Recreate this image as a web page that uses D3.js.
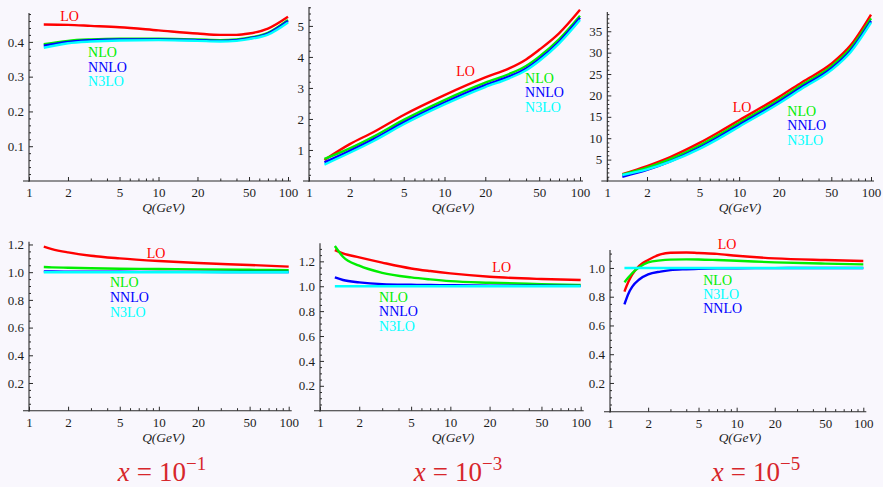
<!DOCTYPE html>
<html>
<head>
<meta charset="utf-8">
<script src="https://cdn.jsdelivr.net/npm/d3@7"></script>
<style>
  html, body { margin: 0; padding: 0; background: #f9f7fd; }
  svg { display: block; }
  text { font-family: "Liberation Serif", "Times New Roman", Times, serif; }
</style>
</head>
<body>
<svg id="chart" width="883" height="487"></svg>
<script>
// ---- data -------------------------------------------------------------
const orders = ["LO", "NLO", "NNLO", "N3LO"];
const xTickValues = [1, 2, 5, 10, 20, 50, 100];
const xMinorTickValues = [3, 4, 6, 7, 8, 9, 30, 40, 60, 70, 80, 90];
const xTitle = "Q(GeV)";
const xExponents = ["1", "3", "5"];

// top row, x = 1e-1
const qA    = [1.3, 2, 3, 5, 10, 20, 30, 40, 50, 70, 100];
const loA   = [0.450, 0.449, 0.446, 0.442, 0.433, 0.424, 0.420, 0.420, 0.424, 0.438, 0.472];
const nloA  = [0.393, 0.403, 0.407, 0.409, 0.409, 0.407, 0.405, 0.407, 0.412, 0.426, 0.463];
const nnloA = [0.389, 0.400, 0.405, 0.407, 0.407, 0.405, 0.403, 0.405, 0.410, 0.424, 0.460];
const n3loA = [0.383, 0.396, 0.401, 0.404, 0.405, 0.403, 0.401, 0.403, 0.408, 0.421, 0.456];

// top row, x = 1e-3
const qB    = [1.3, 2, 3, 5, 10, 20, 30, 40, 50, 70, 100];
const loB   = [0.68, 1.19, 1.58, 2.13, 2.77, 3.34, 3.63, 3.92, 4.23, 4.76, 5.52];
const nloB  = [0.71, 1.05, 1.43, 1.97, 2.61, 3.17, 3.45, 3.71, 4.01, 4.57, 5.33];
const nnloB = [0.60, 0.97, 1.35, 1.89, 2.53, 3.09, 3.37, 3.63, 3.93, 4.49, 5.26];
const n3loB = [0.53, 0.91, 1.29, 1.83, 2.47, 3.03, 3.31, 3.57, 3.87, 4.43, 5.19];

// top row, x = 1e-5
const qC    = [1.3, 2, 3, 5, 7, 10, 20, 30, 50, 70, 100];
const loC   = [1.6, 3.5, 5.6, 8.9, 11.4, 14.2, 19.6, 23.1, 27.4, 31.7, 38.9];
const nloC  = [1.5, 3.1, 5.1, 8.3, 10.8, 13.6, 19.0, 22.5, 26.8, 31.0, 38.0];
const nnloC = [1.0, 2.6, 4.6, 7.8, 10.3, 13.1, 18.5, 22.0, 26.3, 30.5, 37.4];
const n3loC = [1.4, 2.7, 4.5, 7.5, 9.9, 12.7, 18.1, 21.6, 25.9, 30.1, 37.0];

// bottom row, x = 1e-1
const qD    = [1.3, 1.5, 2, 3, 5, 10, 20, 50, 100];
const loD   = [1.184, 1.167, 1.143, 1.119, 1.100, 1.081, 1.066, 1.052, 1.040];
const nloD  = [1.037, 1.035, 1.032, 1.028, 1.025, 1.023, 1.020, 1.017, 1.015];
const nnloD = [1.006, 1.005, 1.004, 1.003, 1.003, 1.002, 1.002, 1.001, 1.001];
const n3loD = [1, 1, 1, 1, 1, 1, 1, 1, 1];

// bottom row, x = 1e-3
const qE    = [1.3, 1.5, 2, 3, 5, 7, 10, 20, 50, 100];
const loE   = [1.290, 1.264, 1.232, 1.190, 1.143, 1.122, 1.103, 1.076, 1.058, 1.050];
const nloE  = [1.323, 1.237, 1.165, 1.108, 1.071, 1.055, 1.041, 1.028, 1.017, 1.010];
const nnloE = [1.071, 1.050, 1.031, 1.017, 1.012, 1.010, 1.008, 1.005, 1.004, 1.003];
const n3loE = [1, 1, 1, 1, 1, 1, 1, 1, 1, 1];

// bottom row, x = 1e-5
const qF    = [1.3, 1.4, 1.5, 1.7, 2, 2.5, 3, 4, 5, 7, 10, 20, 50, 100];
const loF   = [0.835, 0.905, 0.955, 1.015, 1.055, 1.094, 1.106, 1.108, 1.104, 1.098, 1.085, 1.067, 1.055, 1.048];
const nloF  = [0.900, 0.935, 0.965, 1.005, 1.039, 1.053, 1.058, 1.060, 1.059, 1.055, 1.050, 1.039, 1.030, 1.025];
const nnloF = [0.747, 0.823, 0.870, 0.920, 0.955, 0.975, 0.985, 0.991, 0.994, 0.997, 0.998, 0.999, 1.000, 1.000];
const n3loF = [1, 1, 1, 1, 1, 1, 1, 1, 1, 1, 1, 1, 1, 1];

const yTicksA = [0.1, 0.2, 0.3, 0.4];
const yTicksB = [1, 2, 3, 4, 5];
const yTicksC = [5, 10, 15, 20, 25, 30, 35];
const yTicksRatio = [0.2, 0.4, 0.6, 0.8, 1.0, 1.2];
const yTicksRatioF = [0.2, 0.4, 0.6, 0.8, 1.0];

// ---- styling & layout ---------------------------------------------------
const colors = { LO: "#ff0000", NLO: "#00ee00", NNLO: "#0000ff", N3LO: "#00ffff" };
const axisColor = "#2a2a2a";
const textColor = "#1c1c1c";
const captionColor = "#d7262b";

const panels = [
  { q: qA, s: { LO: loA, NLO: nloA, NNLO: nnloA, N3LO: n3loA },
    left: 29, right: 288, base: 181, top: 13, yMax: 0.483,
    yTicks: yTicksA, yMinor: 0.02, fmt: ".1f", titleX: 163.5, titleY: 211.5,
    labels: { LO: [1.74, 0.474], NLO: [2.86, 0.371], NNLO: [2.86, 0.328], N3LO: [2.86, 0.287] } },
  { q: qB, s: { LO: loB, NLO: nloB, NNLO: nnloB, N3LO: n3loB },
    left: 309, right: 580, base: 181, top: 7, yMax: 5.61,
    yTicks: yTicksB, yMinor: 0.2, fmt: "d", titleX: 453, titleY: 211.5,
    labels: { LO: [12.2, 3.55], NLO: [39.3, 3.32], NNLO: [39.3, 2.87], N3LO: [39.3, 2.39] } },
  { q: qC, s: { LO: loC, NLO: nloC, NNLO: nnloC, N3LO: n3loC },
    left: 607.3, right: 871, base: 181, top: 12, yMax: 39.5,
    yTicks: yTicksC, yMinor: 1, fmt: "d", titleX: 740, titleY: 211.5,
    labels: { LO: [8.93, 17.3], NLO: [23.2, 16.4], NNLO: [23.2, 13.1], N3LO: [23.2, 9.6] } },
  { q: qD, s: { LO: loD, NLO: nloD, NNLO: nnloD, N3LO: n3loD },
    left: 29, right: 288.7, base: 410.7, top: 241.7, yMax: 1.22,
    yTicks: yTicksRatio, yMinor: 0.05, fmt: ".1f", titleX: 163.5, titleY: 441.5,
    labels: { LO: [8.06, 1.136], NLO: [4.2, 0.927], NNLO: [4.2, 0.823], N3LO: [4.2, 0.715] } },
  { q: qE, s: { LO: loE, NLO: nloE, NNLO: nnloE, N3LO: n3loE },
    left: 320, right: 580.7, base: 410.7, top: 243.3, yMax: 1.345,
    yTicks: yTicksRatio, yMinor: 0.05, fmt: ".1f", titleX: 453, titleY: 441.5,
    labels: { LO: [21, 1.152], NLO: [2.84, 0.916], NNLO: [2.84, 0.801], N3LO: [2.84, 0.683] } },
  { q: qF, s: { LO: loF, NLO: nloF, NNLO: nnloF, N3LO: n3loF },
    left: 610, right: 863.3, base: 411.7, top: 250, yMax: 1.125,
    yTicks: yTicksRatioF, yMinor: 0.05, fmt: ".1f", titleX: 740, titleY: 441.5,
    labels: { LO: [7.08, 1.165], NLO: [5.45, 0.916], N3LO: [5.45, 0.817], NNLO: [5.45, 0.719] } }
];

const captionX = [162, 458, 756];
const captionY = 481;

// ---- drawing -----------------------------------------------------------
const svg = d3.select("#chart");
svg.append("rect").attr("width", 883).attr("height", 487).attr("fill", "#f9f7fd");

panels.forEach(p => {
  const x = d3.scaleLog().domain([1, 100]).range([p.left, p.right]);
  const y = d3.scaleLinear().domain([0, p.yMax]).range([p.base, p.top]);
  const g = svg.append("g");

  // axis lines
  g.append("line")
    .attr("x1", p.left - 6).attr("x2", p.right + 3)
    .attr("y1", p.base).attr("y2", p.base)
    .attr("stroke", axisColor).attr("stroke-width", 1.1);
  g.append("line")
    .attr("x1", p.left).attr("x2", p.left)
    .attr("y1", p.base + 1).attr("y2", p.top)
    .attr("stroke", axisColor).attr("stroke-width", 1.1);

  // x axis: major + minor ticks pointing inward
  const xMajor = g.append("g").attr("transform", `translate(0,${p.base})`)
    .call(d3.axisBottom(x).tickValues(xTickValues).tickFormat(d3.format("d"))
      .tickSizeInner(-4).tickSizeOuter(0).tickPadding(7));
  const xMinor = g.append("g").attr("transform", `translate(0,${p.base})`)
    .call(d3.axisBottom(x).tickValues(xMinorTickValues).tickFormat("")
      .tickSizeInner(-2.5).tickSizeOuter(0));

  // y axis: major + minor ticks pointing inward
  const step = p.yTicks[1] - p.yTicks[0];
  const minors = d3.range(p.yMinor, p.yMax, p.yMinor).filter(v => {
    const r = v / step;
    return Math.abs(r - Math.round(r)) > 1e-6;
  });
  const yMajor = g.append("g").attr("transform", `translate(${p.left},0)`)
    .call(d3.axisLeft(y).tickValues(p.yTicks).tickFormat(d3.format(p.fmt))
      .tickSizeInner(-4).tickSizeOuter(0).tickPadding(5));
  const yMinorG = g.append("g").attr("transform", `translate(${p.left},0)`)
    .call(d3.axisLeft(y).tickValues(minors).tickFormat("")
      .tickSizeInner(-2).tickSizeOuter(0));

  [xMajor, xMinor, yMajor, yMinorG].forEach(a => {
    a.select(".domain").remove();
    a.selectAll(".tick line").attr("stroke", axisColor).attr("stroke-width", 1);
    a.selectAll(".tick text")
      .attr("fill", textColor)
      .style("font-family", '"Liberation Serif", "Times New Roman", serif')
      .style("font-size", "13px");
  });

  // axis title
  g.append("text")
    .attr("x", p.titleX).attr("y", p.titleY)
    .attr("text-anchor", "middle")
    .attr("fill", textColor)
    .style("font-size", "13.5px").style("font-style", "italic")
    .text(xTitle);

  // curves
  const line = d3.line()
    .x(d => x(d[0])).y(d => y(d[1]))
    .curve(d3.curveMonotoneX);
  orders.forEach(o => {
    const pts = p.q.map((qv, i) => [qv, p.s[o][i]]);
    g.append("path")
      .attr("d", line(pts))
      .attr("fill", "none")
      .attr("stroke", colors[o])
      .attr("stroke-width", 2.4)
      .attr("stroke-linejoin", "round")
      .attr("stroke-linecap", "butt");
  });

  // series labels
  orders.forEach(o => {
    const [lq, lv] = p.labels[o];
    g.append("text")
      .attr("x", x(lq)).attr("y", y(lv))
      .attr("dy", "0.35em")
      .attr("fill", colors[o])
      .style("font-size", "14px")
      .text(o);
  });
});

// captions under each column
xExponents.forEach((e, i) => {
  const t = svg.append("text")
    .attr("x", captionX[i]).attr("y", captionY)
    .attr("text-anchor", "middle")
    .attr("fill", captionColor)
    .style("font-size", "27px");
  t.append("tspan").style("font-style", "italic").text("x");
  t.append("tspan").attr("dx", 7).text("=");
  t.append("tspan").attr("dx", 7).text("10");
  t.append("tspan").attr("dy", -11).style("font-size", "19px").text("\u2212" + e);
});
</script>
</body>
</html>
